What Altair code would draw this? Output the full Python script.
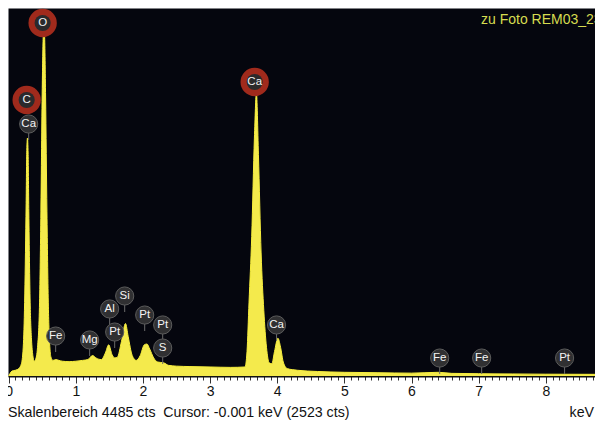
import altair as alt
import pandas as pd

# ---- spectrum (energy in keV, counts) ----
kev = [0.00, 0.02, 0.05, 0.10, 0.15, 0.19, 0.22, 0.24, 0.26, 0.27, 0.28, 0.29, 0.30, 0.32, 0.34,
       0.36, 0.38, 0.40, 0.43, 0.46, 0.48, 0.50, 0.515, 0.525, 0.535, 0.55, 0.57, 0.59, 0.61, 0.63,
       0.66, 0.70, 0.75, 0.80, 0.90, 1.00, 1.10, 1.18, 1.25, 1.30, 1.38, 1.44, 1.49, 1.54, 1.58,
       1.62, 1.68, 1.74, 1.78, 1.84, 1.90, 1.96, 2.02, 2.06, 2.10, 2.16, 2.22, 2.31, 2.38, 2.50,
       2.70, 3.00, 3.30, 3.52, 3.55, 3.58, 3.62, 3.66, 3.69, 3.72, 3.76, 3.80, 3.84, 3.88, 3.92,
       3.96, 4.01, 4.05, 4.09, 4.15, 4.30, 4.60, 5.00, 5.50, 6.00, 6.40, 6.60, 7.00, 7.50, 8.00, 8.90]
cts = [0, 30, 60, 70, 90, 150, 400, 1000, 2100, 2750, 2900, 2700, 2000, 900, 450,
       250, 180, 200, 350, 900, 2000, 3500, 4150, 4250, 4150, 3400, 2000, 900, 400, 230,
       190, 200, 190, 180, 175, 180, 190, 200, 250, 220, 200, 280, 380, 260, 220,
       230, 420, 640, 480, 250, 190, 250, 380, 390, 330, 220, 170, 160, 130, 120,
       115, 110, 105, 110, 300, 900, 1700, 2900, 3450, 2700, 1500, 800, 350, 160, 150,
       300, 460, 350, 170, 90, 70, 55, 45, 40, 35, 45, 32, 28, 25, 22, 20]

# ---- element markers ----
lab_text = ["O", "C", "Ca", "Ca", "Fe", "Mg", "Al", "Pt", "Si", "Pt", "Pt", "S", "Ca", "Fe", "Fe", "Pt"]
lab_kev = [0.506, 0.268, 0.298, 3.664, 0.70, 1.206, 1.504, 1.579, 1.728, 2.026, 2.294, 2.294,
           3.99, 6.42, 7.045, 8.28]
lab_cts = [4302, 3364, 3071, 3583, 487, 439, 817, 536, 975, 743, 622, 341, 622, 219, 219, 219]
lab_ring = [True, True, False, True, False, False, False, False, False, False, False, False,
            False, False, False, False]

footer = "Skalenbereich 4485 cts\u00a0 Cursor: -0.001 keV (2523 cts)"
unit = "keV"
caption = "zu Foto REM03_2324"

X_MIN, X_MAX = -0.01, 8.733
Y_MAX = 4485

spec = pd.DataFrame({"keV": kev, "cts": cts})
labels = pd.DataFrame({"label": lab_text, "keV": lab_kev, "cts": lab_cts, "ring": lab_ring})

xs = alt.Scale(domain=[X_MIN, X_MAX], nice=False, zero=False)
ys = alt.Scale(domain=[0, Y_MAX], nice=False, zero=True)

tick_vals = [round(i * 0.1, 1) for i in range(0, 88)]
is_major = "abs(datum.value - round(datum.value)) < 0.01"

x_axis = alt.Axis(
    values=tick_vals, title=None, grid=False,
    domainColor="#111111", domainWidth=2,
    tickColor="#333333", tickWidth=1,
    tickSize={"condition": {"test": is_major, "value": 7}, "value": 4},
    labelExpr=f"{is_major} ? format(datum.value, 'd') : ''",
    labelFont="Liberation Sans", labelFontSize=14, labelColor="#111111",
    labelOverlap=False, labelFlush=False, labelBound=False, labelPadding=1,
)

X = alt.X("keV:Q", scale=xs, axis=x_axis)
Y = alt.Y("cts:Q", scale=ys, axis=None)

area = alt.Chart(spec).mark_area(
    color="#f4ea4c", opacity=1, fillOpacity=1,
    line={"color": "#f8ef3c", "strokeWidth": 1},
    interpolate="monotone", clip=True,
).encode(x=X, y=Y)

base_lab = alt.Chart(labels)

stems = base_lab.transform_filter("!datum.ring").mark_rule(
    color="#6a6a6a", strokeWidth=1, y2Offset=16
).encode(x=X, y=Y, y2=alt.Y2("cts:Q"))

rings = base_lab.transform_filter("datum.ring").mark_point(
    filled=True, shape="circle", size=804, color="#a02a1c", opacity=1
).encode(x=X, y=Y)

inner = base_lab.transform_filter("datum.ring").mark_point(
    filled=True, shape="circle", size=260, color="#2a2a2c", opacity=1
).encode(x=X, y=Y)

grey = base_lab.transform_filter("!datum.ring").mark_point(
    filled=True, shape="circle", size=330, color="#303032", opacity=1,
    stroke="#5c5c5c", strokeWidth=1,
).encode(x=X, y=Y)

texts = base_lab.mark_text(
    color="#f4f4f4", font="Liberation Sans", fontSize=11.5
).encode(x=X, y=Y, text="label:N")

foot = alt.Chart(pd.DataFrame({"t": [footer]})).mark_text(
    align="left", baseline="middle", font="Liberation Sans", fontSize=14.2, color="#111111"
).encode(x=alt.value(0), y=alt.value(405), text="t:N")

unit_t = alt.Chart(pd.DataFrame({"t": [unit]})).mark_text(
    align="right", baseline="middle", font="Liberation Sans", fontSize=14.2, color="#111111"
).encode(x=alt.value(586), y=alt.value(405), text="t:N")

cap = alt.Chart(pd.DataFrame({"t": [caption]})).mark_text(
    align="left", baseline="middle", font="Liberation Sans", fontSize=14, color="#d6dc50",
    clip=True,
).encode(x=alt.value(473), y=alt.value(12), text="t:N")

chart = alt.layer(area, stems, rings, inner, grey, texts, foot, unit_t, cap).properties(
    width=587, height=368,
    autosize=alt.AutoSizeParams(type="none"),
    padding={"left": 0, "top": 0, "right": 0, "bottom": 45},
    background="white",
).configure_view(fill="#05060e", strokeOpacity=0).configure_axis(labelOverlap=False)

chart.save("out.html", embed_options={"renderer": "svg", "actions": False})
